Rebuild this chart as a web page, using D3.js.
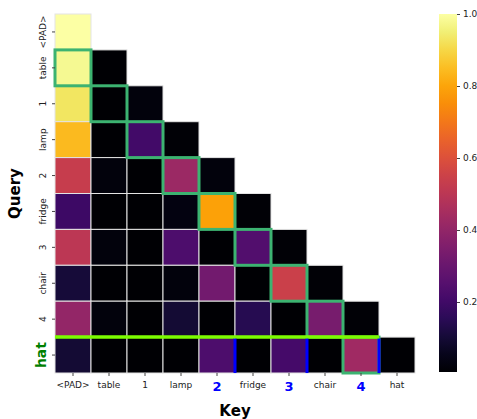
<!DOCTYPE html>
<html>
<head>
<meta charset="utf-8">
<script src="https://cdn.jsdelivr.net/npm/d3@7"></script>
<style>
  body { margin: 0; background: #fff; }
  text { font-family: "DejaVu Sans", sans-serif; }
</style>
</head>
<body>
<div id="chart"></div>
<script>
// tokens on both axes
const tokens = ['<PAD>', 'table', '1', 'lamp', '2', 'fridge', '3', 'chair', '4', 'hat'];

// attention weights, one row per query (lower triangle only)
const rowPad    = [1.00];
const rowTable  = [0.98, 0.00];
const rowOne    = [0.93, 0.00, 0.02];
const rowLamp   = [0.84, 0.00, 0.20, 0.01];
const rowTwo    = [0.53, 0.02, 0.00, 0.42, 0.02];
const rowFridge = [0.19, 0.00, 0.00, 0.03, 0.79, 0.01];
const rowThree  = [0.50, 0.02, 0.00, 0.23, 0.00, 0.24, 0.01];
const rowChair  = [0.10, 0.00, 0.00, 0.02, 0.32, 0.00, 0.54, 0.01];
const rowFour   = [0.40, 0.02, 0.00, 0.09, 0.00, 0.14, 0.00, 0.33, 0.01];
const rowHat    = [0.09, 0.00, 0.00, 0.00, 0.23, 0.00, 0.21, 0.00, 0.43, 0.00];
const weights = [rowPad, rowTable, rowOne, rowLamp, rowTwo, rowFridge, rowThree, rowChair, rowFour, rowHat];

// highlighted cells (query row -> key column)
const boxRows = [1, 2, 3, 4, 5, 6, 7, 8, 9];
const boxCols = [0, 1, 2, 3, 4, 5, 6, 7, 8];
// blue separators after these keys in the last row
const splitKeys = ['2', '3', '4'];
const cbTicks = [0.2, 0.4, 0.6, 0.8, 1.0];

const width = 477, height = 419;
const margin = { top: 14, left: 55, right: 62, bottom: 46 };

const svg = d3.select('#chart').append('svg')
  .attr('width', width)
  .attr('height', height);

const x = d3.scaleBand().domain(d3.range(tokens.length)).range([margin.left, width - margin.right]);
const y = d3.scaleBand().domain(d3.range(tokens.length)).range([margin.top, height - margin.bottom]);
const color = d3.scaleSequential(d3.interpolateInferno).domain([0, 1]);

// flatten lower triangle
let cells = [];
weights.forEach((row, i) => {
  row.forEach((v, j) => cells.push({ r: i, c: j, v: v }));
});

svg.append('g').selectAll('rect')
  .data(cells)
  .enter()
  .append('rect')
  .attr('x', d => x(d.c))
  .attr('y', d => y(d.r))
  .attr('width', x.bandwidth())
  .attr('height', y.bandwidth())
  .attr('fill', d => color(d.v))
  .attr('stroke', '#e4e4e4')
  .attr('stroke-width', 1);

// green boxes
svg.append('g').selectAll('rect')
  .data(boxRows.map((r, i) => ({ r: r, c: boxCols[i] })))
  .enter()
  .append('rect')
  .attr('x', d => x(d.c))
  .attr('y', d => y(d.r))
  .attr('width', x.bandwidth())
  .attr('height', y.bandwidth())
  .attr('fill', 'none')
  .attr('stroke', '#3cb371')
  .attr('stroke-width', 3);

// lime line above the last row
const last = tokens.length - 1;
svg.append('line')
  .attr('x1', x(0))
  .attr('x2', x(last - 1) + x.bandwidth())
  .attr('y1', y(last))
  .attr('y2', y(last))
  .attr('stroke', '#7cfc00')
  .attr('stroke-width', 3.5);

// blue separators
svg.append('g').selectAll('line')
  .data(splitKeys.map(k => tokens.indexOf(k)))
  .enter()
  .append('line')
  .attr('x1', d => x(d) + x.bandwidth())
  .attr('x2', d => x(d) + x.bandwidth())
  .attr('y1', y(last) + 1.5)
  .attr('y2', y(last) + y.bandwidth())
  .attr('stroke', 'blue')
  .attr('stroke-width', 3);

// x axis
const xAxis = svg.append('g')
  .attr('transform', 'translate(0,' + (height - margin.bottom) + ')')
  .call(d3.axisBottom(x).tickSize(3).tickFormat(i => tokens[i]));
xAxis.select('.domain').remove();
xAxis.selectAll('line').attr('stroke', '#444');
xAxis.selectAll('text')
  .attr('dy', '0.95em')
  .attr('fill', i => splitKeys.includes(tokens[i]) ? 'blue' : '#222')
  .style('font-size', i => splitKeys.includes(tokens[i]) ? '13px' : '9px')
  .style('font-weight', i => splitKeys.includes(tokens[i]) ? 'bold' : 'normal');

// y axis
const yAxis = svg.append('g')
  .attr('transform', 'translate(' + margin.left + ',0)')
  .call(d3.axisLeft(y).tickSize(3).tickFormat(i => tokens[i]));
yAxis.select('.domain').remove();
yAxis.selectAll('line').attr('stroke', '#444');
yAxis.selectAll('text')
  .attr('x', 0)
  .attr('dy', 0)
  .attr('text-anchor', 'middle')
  .attr('transform', 'translate(-9,0) rotate(-90)')
  .attr('fill', i => i == last ? 'green' : '#222')
  .style('font-size', i => i == last ? '14px' : '9px')
  .style('font-weight', i => i == last ? 'bold' : 'normal');

// axis titles
svg.append('text')
  .attr('x', (x.range()[0] + x.range()[1]) / 2)
  .attr('y', 416)
  .attr('text-anchor', 'middle')
  .style('font-size', '15px')
  .style('font-weight', 'bold')
  .text('Key');

svg.append('text')
  .attr('transform', 'translate(20,' + (y.range()[0] + y.range()[1]) / 2 + ') rotate(-90)')
  .attr('text-anchor', 'middle')
  .style('font-size', '15px')
  .style('font-weight', 'bold')
  .text('Query');

// colorbar
const cbX = 439, cbW = 18;
const cbY = d3.scaleLinear().domain([0, 1]).range([374, 14]);
const defs = svg.append('defs');
const grad = defs.append('linearGradient')
  .attr('id', 'cbgrad')
  .attr('x1', 0).attr('x2', 0).attr('y1', 1).attr('y2', 0);
d3.range(0, 1.01, 0.05).forEach(t => {
  grad.append('stop').attr('offset', t).attr('stop-color', color(t));
});
svg.append('rect')
  .attr('x', cbX)
  .attr('y', cbY(1))
  .attr('width', cbW)
  .attr('height', cbY(0) - cbY(1) - 2)
  .attr('fill', 'url(#cbgrad)');

const cbAxis = svg.append('g')
  .attr('transform', 'translate(' + (cbX + cbW) + ',0)')
  .call(d3.axisRight(cbY).tickValues(cbTicks).tickSize(3).tickFormat(d3.format('.1f')));
cbAxis.select('.domain').remove();
cbAxis.selectAll('line').attr('stroke', '#444');
cbAxis.selectAll('text').attr('fill', '#222').style('font-size', '9px');
</script>
</body>
</html>
